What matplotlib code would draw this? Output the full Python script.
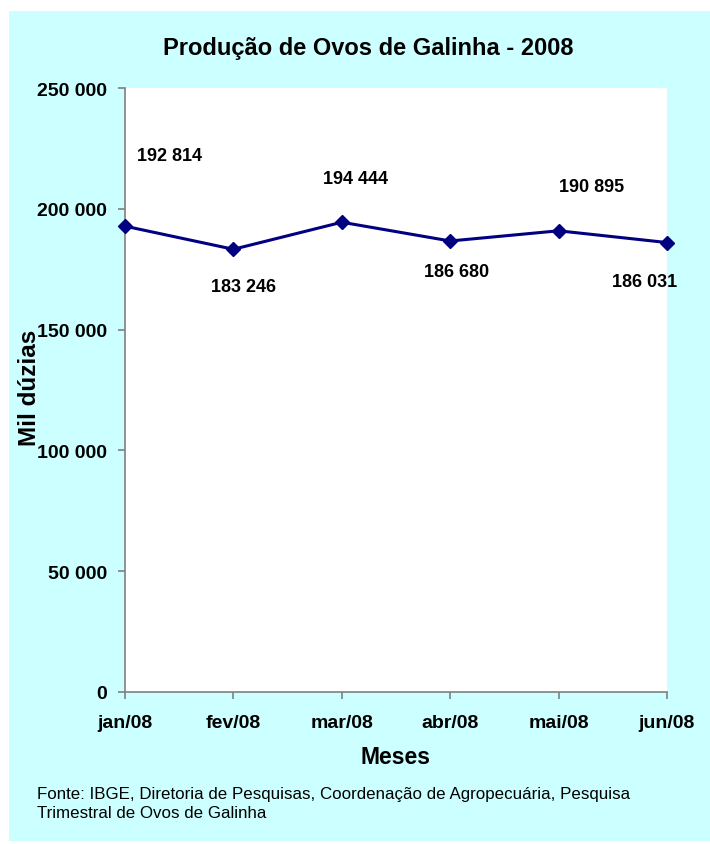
import matplotlib.pyplot as plt
from matplotlib.patches import Rectangle

# producao mensal de ovos de galinha, 2008 (mil duzias)
meses = ['jan/08', 'fev/08', 'mar/08', 'abr/08', 'mai/08', 'jun/08']
producao = [192814, 183246, 194444, 186680, 190895, 186031]

# deslocamento dos rotulos de valor (pixels, x para direita / y para baixo)
label_dx = [45, 10, 14, 6, 33, -22]
label_dy = [-71, 37, -44, 31, -44, 39]

plt.rcParams['font.family'] = ['Liberation Sans', 'DejaVu Sans']

fig = plt.figure(figsize=(7.1, 8.45), dpi=100)
fig.patch.set_facecolor('white')
fig.patches.append(Rectangle((9 / 710, 3 / 845), 701 / 710, 830 / 845,
                             transform=fig.transFigure, facecolor='#CCFFFF',
                             edgecolor='none', zorder=-10))

ax = fig.add_axes([125 / 710, 1 - 693 / 845, 542 / 710, 604 / 845])
ax.set_facecolor('white')

x = list(range(len(meses)))
ax.plot(x, producao, color='#000080', linewidth=2.2, marker='D',
        markersize=7, markeredgecolor='#000080', clip_on=False, zorder=5)

for xi, v, dx, dy in zip(x, producao, label_dx, label_dy):
    txt = f'{v:,}'.replace(',', ' ')
    ax.annotate(txt, (xi, v), xytext=(dx * 0.72, -dy * 0.72),
                textcoords='offset points', ha='center', va='center',
                fontsize=13, fontweight='bold', color='black')

ax.set_xlim(0, len(meses) - 1)
ax.set_ylim(0, 250000)
ax.set_yticks(range(0, 250001, 50000))
ax.set_yticklabels([f'{t:,}'.replace(',', ' ') for t in range(0, 250001, 50000)],
                   fontsize=14, fontweight='bold')
ax.set_xticks(x)
ax.set_xticklabels(meses, fontsize=14, fontweight='bold')

for s in ['top', 'right']:
    ax.spines[s].set_visible(False)
for s in ['left', 'bottom']:
    ax.spines[s].set_color('#808080')
    ax.spines[s].set_linewidth(1.2)
ax.tick_params(axis='both', direction='out', length=5, width=1.2,
               color='#808080', pad=8)
ax.tick_params(axis='x', pad=11)

ax.set_xlabel('Meses', fontsize=16.5, fontweight='bold', labelpad=10)
ax.set_ylabel('Mil dúzias', fontsize=17.5, fontweight='bold', va='center')
ax.yaxis.set_label_coords(-95 / 542, (693 - 388) / 604)

fig.text(368 / 710, 1 - 48 / 845, 'Produção de Ovos de Galinha - 2008',
         ha='center', va='center', fontsize=17, fontweight='bold')

fig.text(37 / 710, 1 - 804 / 845,
         'Fonte: IBGE, Diretoria de Pesquisas, Coordenação de Agropecuária, Pesquisa\n'
         'Trimestral de Ovos de Galinha',
         ha='left', va='center', fontsize=12.2, linespacing=1.35)

fig.savefig('out.png', dpi=100, facecolor=fig.get_facecolor())
